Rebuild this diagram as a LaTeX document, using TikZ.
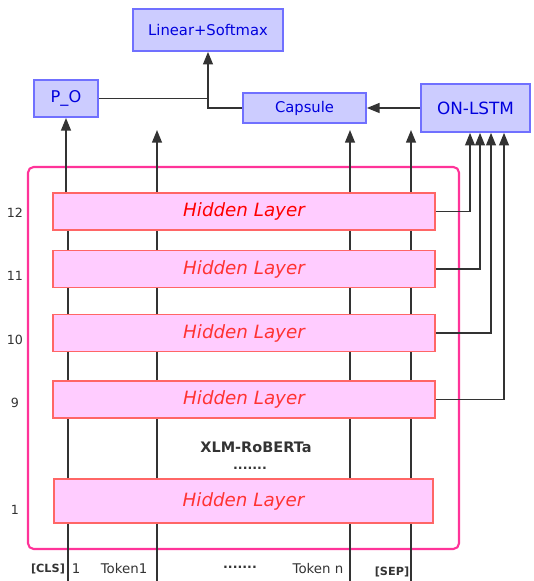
\documentclass[tikz,border=0pt]{standalone}
\usepackage{fontspec}
\setmainfont{DejaVu Sans}
\usetikzlibrary{positioning, arrows.meta}
\definecolor{boxfill}{HTML}{CCCCFF}
\definecolor{boxline}{HTML}{7070FF}
\definecolor{boxtext}{HTML}{0000DD}
\definecolor{hidfill}{HTML}{FFCCFF}
\definecolor{hidline}{HTML}{FF6666}
\definecolor{hidtext}{HTML}{FF3333}
\definecolor{frame}{HTML}{FF3399}
\definecolor{ink}{HTML}{333333}
\tikzset{
	blk/.style={
		draw=boxline,
		fill=boxfill,
		line width=1.2pt,
		text=boxtext,
		inner sep=0
	},
	hid/.style={
		draw=hidline,
		fill=hidfill,
		line width=1.2pt,
		minimum width=9.55cm,
		minimum height=0.925cm,
		text=hidtext,
		font=\fontsize{13}{15}\selectfont\itshape,
		inner sep=0
	},
	conn/.style={
		draw=ink,
		line width=1.2pt
	},
	arr/.style={
		conn,
		-{Triangle[length=9pt,width=7pt]}
	},
	lnum/.style={
		text=ink,
		font=\fontsize{9}{10}\selectfont,
		inner sep=0
	},
	tok/.style={
		text=ink,
		font=\fontsize{9.5}{11}\selectfont,
		inner sep=0
	}
}

\begin{document}
\begin{tikzpicture}
		\useasboundingbox (0,0) rectangle (13.325,14.525);
		\node[blk, minimum width=3.75cm, minimum height=1.05cm, font=\fontsize{10.5}{12}\selectfont] (lin) at (5.2,13.775) {Linear+Softmax};
		\node[blk, minimum width=1.6cm, minimum height=0.925cm, font=\fontsize{11.5}{13}\selectfont] (po) at (1.65,12.06) {P\_O};
		\node[blk, minimum width=3.075cm, minimum height=0.75cm, font=\fontsize{10.5}{12}\selectfont] (cap) at (7.6125,11.825) {Capsule};
		\node[blk, minimum width=2.725cm, minimum height=1.2cm, font=\fontsize{12}{14}\selectfont] (lstm) at (11.8875,11.825) {ON-LSTM};
		
		\draw[rounded corners=4pt, draw=frame, line width=1.5pt] (0.7,0.8) rectangle (11.475,10.35);
		\node[hid, text=red] (h12) at (6.1,9.2375) {Hidden Layer};
		\node[hid] (h11) at (6.1,7.8) {Hidden Layer};
		\node[hid] (h10) at (6.1,6.2) {Hidden Layer};
		\node[hid] (h9) at (6.1,4.5375) {Hidden Layer};
		\node[hid, minimum width=9.475cm, minimum height=1.1cm] (h1) at (6.0875,2.0) {Hidden Layer};
		
		\node[lnum] (n12) at (0.375,9.2) {12};
		\node[lnum] (n11) at (0.375,7.625) {11};
		\node[lnum] (n10) at (0.375,6.025) {10};
		\node[lnum] (n9) at (0.375,4.45) {9};
		\node[lnum] (n1) at (0.375,1.775) {1};
		
		\node[text=ink, font=\fontsize{10.3}{12}\selectfont\bfseries] (xlm) at (6.4,3.35) {XLM-RoBERTa};
		\node[text=ink, font=\fontsize{9}{10}\selectfont\bfseries] (vdots) at (6.25,2.82) {.......};
		
		\node[tok, font=\fontsize{8}{9}\selectfont\bfseries] (cls) at (1.2,0.3) {[CLS]};
		\node[tok] (one) at (1.9,0.3) {1};
		\node[tok] (tk1) at (3.1,0.3) {Token1};
		\node[tok, font=\fontsize{9}{10}\selectfont\bfseries] (hdots) at (6.0,0.33) {.......};
		\node[tok] (tkn) at (7.95,0.3) {Token n};
		\node[tok, font=\fontsize{8}{9}\selectfont\bfseries] (sep) at (9.8,0.225) {[SEP]};
		
		\coordinate (c1) at (1.7,0);
		\coordinate (c2) at (3.925,0);
		\coordinate (c3) at (8.75,0);
		\coordinate (c4) at (10.275,0);
		\coordinate (r1) at (11.75,0);
		\coordinate (r2) at (12.0,0);
		\coordinate (r3) at (12.275,0);
		\coordinate (r4) at (12.6,0);
		
		\foreach \c in {c1,c2,c3,c4}{
			\draw[conn] (h1.south -| \c) -- (\c);
			\foreach \a/\b in {h1/h9, h9/h10, h10/h11, h11/h12}
				\draw[conn] (\a.north -| \c) -- (\b.south -| \c);
		}
		\draw[arr] (h12.north -| po.south) -- (po.south);
		\coordinate (t2) at (3.925,11.275);
		\coordinate (t3) at (8.75,11.275);
		\coordinate (t4) at (10.275,11.275);
		\draw[arr] (h12.north -| t2) -- (t2);
		\draw[arr] (h12.north -| t3) -- (t3);
		\draw[arr] (h12.north -| t4) -- (t4);
		
		\draw[arr] (h12.east) -| (lstm.south -| r1);
		\draw[arr] (h11.east) -| (lstm.south -| r2);
		\draw[arr] (h10.east) -| (lstm.south -| r3);
		\draw[arr] (h9.east) -| (lstm.south -| r4);
		
		\draw[arr] (lstm.west) -- (cap.east);
		\draw[arr] (cap.west) -| (lin.south);
		\draw[conn] (po.east) -- (po.east -| lin.south);
\end{tikzpicture}
\end{document}
